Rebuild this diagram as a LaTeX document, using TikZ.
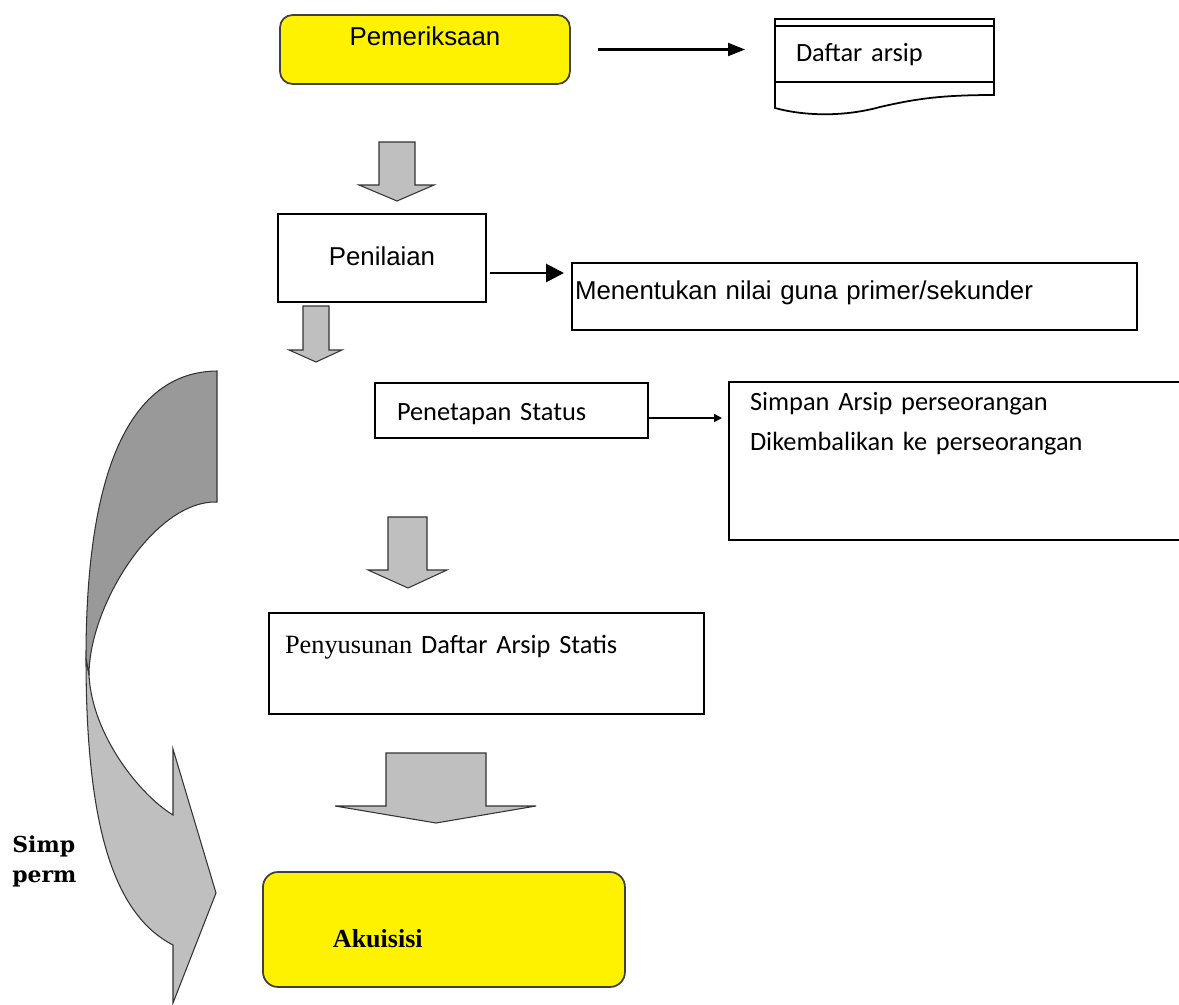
\documentclass[tikz,border=0pt]{standalone}
\usepackage{fontspec}
\newfontfamily\arialfont{Liberation Sans}
\newfontfamily\calibrifont{Carlito}
\newfontfamily\timesfont{Liberation Serif}
\newfontfamily\bookfont{DejaVu Serif}
\usetikzlibrary{arrows.meta}
\tikzset{
  box/.style={draw, line width=1pt, rectangle, anchor=north west, inner ysep=0pt, outer sep=0pt, align=left},
  yellowbox/.style={box, fill=yellow, draw=black!75, rounded corners=0.25cm},
  sans/.style={font=\arialfont\fontsize{14.7}{17}\selectfont},
  cal/.style={font=\calibrifont\fontsize{15}{23.2}\selectfont},
  arr/.style={-{Triangle[length=0.34cm,width=0.26cm]}, line width=1.2pt},
  blockarr/.style={draw=black!80, fill=black!25, line width=0.6pt},
}
\begin{document}
\begin{tikzpicture}[x=0.02cm, y=-0.02cm]
\useasboundingbox (0,0) rectangle (1179,1004);
\clip (0,0) rectangle (1179,1004);
\node[yellowbox, sans, inner xsep=0pt, text width=5.8cm, align=center, text height=0.62cm, text depth=0.76cm] (periksa) at (280,15) {Pemeriksaan};
\node[box, cal, inner xsep=0.42cm, text width=3.54cm, text height=0.86cm, text depth=0.4cm] (daftar) at (775,19) {Daftar arsip};
\draw[line width=1pt] (daftar.north west) ++(0,7) -- ++(219,0);
\draw[line width=1pt] (daftar.south west) -- ++(0,26) .. controls (800,115) and (840,118) .. (880,107) .. controls (915,99) and (940,95) .. (994,95) -- (daftar.south east);
\draw[arr, shorten <=0.56cm, shorten >=0.6cm] (periksa.east) -- (periksa.east -| daftar.west);

\draw[blockarr] (379,142) -- (415,142) -- (415,185) -- (434,185) -- (397,201) -- (359,185) -- (379,185) -- cycle;

\node[box, sans, inner xsep=0pt, text width=4.16cm, align=center, text height=1.04cm, text depth=0.72cm] (penilai) at (278,214) {Penilaian};
\node[box, sans, inner xsep=0.06cm, text width=11.18cm, text height=0.74cm, text depth=0.6cm] (tentukan) at (572,263) {Menentukan nilai guna primer/sekunder};
\coordinate (p1) at ([yshift=-0.3cm]penilai.east);
\draw[line width=1.6pt, -{Triangle[length=0.36cm,width=0.36cm]}, shorten <=0.08cm, shorten >=0.16cm] (p1) -- (p1 -| tentukan.west);

\draw[blockarr] (303,306) -- (329,306) -- (329,350) -- (342,350) -- (316,362) -- (289,350) -- (303,350) -- cycle;

\node[box, cal, line width=1.2pt, inner xsep=0.44cm, text width=4.58cm, text height=0.74cm, text depth=0.36cm] (tetap) at (375,383) {Penetapan Status};
\node[box, cal, line width=1.4pt, inner xsep=0.42cm, text width=8.38cm, text height=0.56cm, text depth=2.6cm] (simpan) at (729,382) {Simpan Arsip perseorangan\\Dikembalikan ke perseorangan};
\coordinate (p2) at ([yshift=-0.15cm]tetap.east);
\draw[line width=1pt, -{Triangle[length=0.16cm,width=0.16cm]}, shorten >=0.14cm] (p2) -- (p2 -| simpan.west);

\draw[blockarr] (388,517) -- (427,517) -- (427,570) -- (447,570) -- (408,588) -- (368,570) -- (388,570) -- cycle;

\node[box, cal, inner xsep=0.32cm, text width=8.06cm, text height=0.8cm, text depth=1.22cm] (susun) at (269,613) {{\timesfont Penyusunan} Daftar Arsip Statis};

\draw[blockarr] (386,753) -- (486,753) -- (486,806) -- (536,806) -- (436,823) -- (335,806) -- (386,806) -- cycle;

\node[yellowbox, rounded corners=0.3cm, font=\timesfont\bfseries\fontsize{14.8}{17}\selectfont, inner xsep=1.4cm, text width=4.44cm, text height=1.5cm, text depth=0.8cm] (akuisisi) at (263,872) {Akuisisi};

\node[anchor=base west, inner sep=0pt, align=left, font=\bookfont\bfseries\fontsize{12.5}{17}\selectfont] (simp) at (12,882) {Simp\\perm};

\draw[blockarr, fill=black!25] (86,658) .. controls (86,830) and (115,915) .. (173,945) -- (173,1003) -- (216,893) -- (173,749) -- (173,815) .. controls (140,795) and (92,735) .. (89,675) -- cycle;
\draw[blockarr, fill=black!40] (217,371) .. controls (130,372) and (86,470) .. (86,658) -- (89,675) .. controls (89,605) and (155,500) .. (217,502) -- cycle;
\end{tikzpicture}
\end{document}
